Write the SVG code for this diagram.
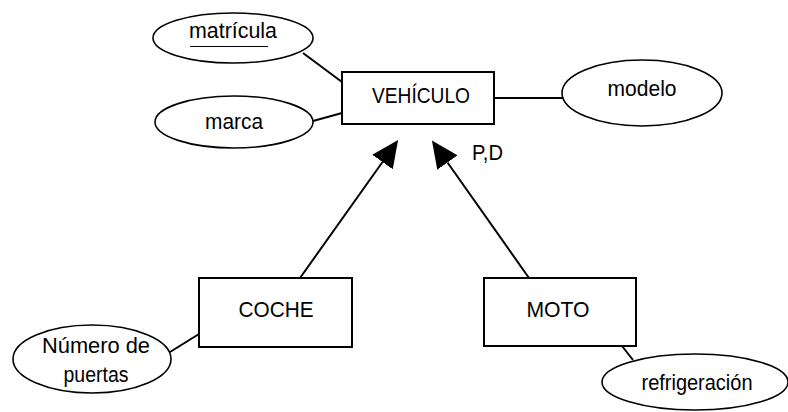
<svg xmlns="http://www.w3.org/2000/svg" width="788" height="412" viewBox="0 0 788 412">
<style>
  .ent { fill: #fff; stroke: #000; stroke-width: 2; }
  .att { fill: #fff; stroke: #000; stroke-width: 1.6; }
  .lbl { font-family: "Liberation Sans", Arial, sans-serif; font-size: 22px; fill: #000; text-anchor: middle; }
  .con { stroke: #000; stroke-width: 2; fill: none; }
</style>
<defs>
  <marker id="tri" viewBox="0 0 27 25" refX="0" refY="12.5" markerWidth="27" markerHeight="25" markerUnits="userSpaceOnUse" orient="auto">
    <path d="M0,0 L27,12.5 L0,25 Z" fill="#000"/>
  </marker>
</defs>
<rect width="788" height="412" fill="#fff"/>
<g id="connectors">
  <line class="con" x1="303" y1="53" x2="342" y2="82"/>
  <line class="con" x1="313" y1="121" x2="342" y2="113"/>
  <line class="con" x1="494" y1="98" x2="563" y2="98"/>
  <line class="con" x1="170" y1="352" x2="199" y2="334"/>
  <line class="con" x1="622" y1="346" x2="633" y2="360"/>
  <line class="con" x1="300" y1="278" x2="382.5" y2="162" marker-end="url(#tri)"/>
  <line class="con" x1="529" y1="278" x2="447.5" y2="162.5" marker-end="url(#tri)"/>
  <text class="lbl" x="472" y="160" style="text-anchor:start" textLength="31" lengthAdjust="spacingAndGlyphs">P,D</text>
</g>
<g id="vehiculo">
  <rect class="ent" x="342" y="72" width="152" height="52"/>
  <text class="lbl" x="421" y="103" textLength="98" lengthAdjust="spacingAndGlyphs">VEHÍCULO</text>
</g>
<g id="matricula">
  <ellipse class="att" cx="233" cy="38" rx="80" ry="25"/>
  <text class="lbl" x="233" y="38" textLength="88" lengthAdjust="spacingAndGlyphs">matrícula</text>
  <line x1="190" y1="46.5" x2="268" y2="46.5" stroke="#000" stroke-width="1.2"/>
</g>
<g id="marca">
  <ellipse class="att" cx="234" cy="122" rx="79" ry="26"/>
  <text class="lbl" x="234" y="129" textLength="58" lengthAdjust="spacingAndGlyphs">marca</text>
</g>
<g id="modelo">
  <ellipse class="att" cx="642" cy="93" rx="80" ry="33"/>
  <text class="lbl" x="642" y="96" textLength="69" lengthAdjust="spacingAndGlyphs">modelo</text>
</g>
<g id="coche">
  <rect class="ent" x="199" y="278" width="153" height="69"/>
  <text class="lbl" x="276" y="317" textLength="75" lengthAdjust="spacingAndGlyphs">COCHE</text>
</g>
<g id="moto">
  <rect class="ent" x="484" y="278" width="152" height="68"/>
  <text class="lbl" x="558" y="317" textLength="63" lengthAdjust="spacingAndGlyphs">MOTO</text>
</g>
<g id="numero_puertas">
  <ellipse class="att" cx="92" cy="359" rx="79" ry="34"/>
  <text class="lbl" x="96" y="353" textLength="108" lengthAdjust="spacingAndGlyphs">Número de</text>
  <text class="lbl" x="96" y="382" textLength="65" lengthAdjust="spacingAndGlyphs">puertas</text>
</g>
<g id="refrigeracion">
  <ellipse class="att" cx="695" cy="382" rx="93" ry="28"/>
  <text class="lbl" x="697" y="390" textLength="111" lengthAdjust="spacingAndGlyphs">refrigeración</text>
</g>
</svg>
